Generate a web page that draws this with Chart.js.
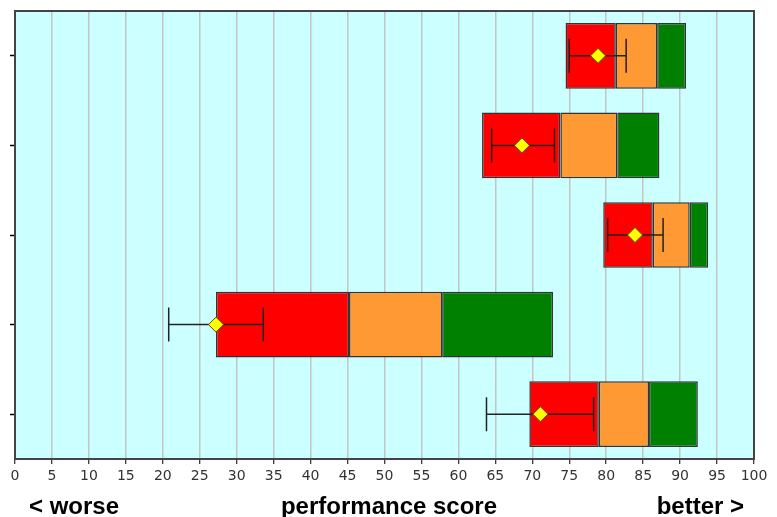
<!DOCTYPE html>
<html>
<head>
<meta charset="utf-8">
<script src="https://cdn.jsdelivr.net/npm/chart.js@4/dist/chart.umd.min.js"></script>
<style>
  html, body { margin: 0; padding: 0; background: #ffffff; }
  #wrap { width: 777px; height: 517px; position: relative; }
</style>
</head>
<body>
<div id="wrap"><canvas id="c"></canvas></div>
<script>
// ---- data (top row first) ----
const categories = ['Item 1', 'Item 2', 'Item 3', 'Item 4', 'Item 5'];
const rangeStart = [74.5, 63.2, 79.6, 27.2, 69.6];
const redEnd     = [81.3, 73.8, 86.3, 45.2, 79.0];
const orangeEnd  = [86.9, 81.5, 91.3, 57.8, 85.8];
const greenEnd   = [90.8, 87.2, 93.8, 72.8, 92.4];
const meanScore  = [78.9, 68.6, 83.9, 27.2, 71.1];
const errLow     = [75.0, 64.5, 80.2, 20.8, 63.8];
const errHigh    = [82.7, 73.0, 87.7, 33.6, 78.3];
const xTickStep = 5;
const footLeft = '< worse';
const footCenter = 'performance score';
const footRight = 'better >';

const redData = categories.map((c, i) => [rangeStart[i], redEnd[i]]);
const orangeData = categories.map((c, i) => [redEnd[i], orangeEnd[i]]);
const greenData = categories.map((c, i) => [orangeEnd[i], greenEnd[i]]);
const meanData = categories.map((c, i) => ({ x: meanScore[i], y: c }));

const barCommon = {
  type: 'bar',
  borderColor: '#333333',
  borderWidth: 1.5,
  borderSkipped: false,
  grouped: false,
  categoryPercentage: 1,
  barPercentage: 0.733
};

const framePlugin = {
  id: 'frame',
  beforeDraw(chart) {
    const { ctx, chartArea: a } = chart;
    ctx.save();
    ctx.fillStyle = '#CCFFFF';
    ctx.fillRect(a.left, a.top, a.right - a.left, a.bottom - a.top);
    ctx.restore();
  },
  beforeDatasetDraw(chart, args) {
    if (args.index !== 0) return;
    const { ctx } = chart;
    const xs = chart.scales.x, ys = chart.scales.y;
    ctx.save();
    ctx.strokeStyle = '#222222';
    ctx.lineWidth = 1.5;
    categories.forEach((c, i) => {
      const y = ys.getPixelForValue(i);
      const x1 = xs.getPixelForValue(errLow[i]);
      const x2 = xs.getPixelForValue(errHigh[i]);
      ctx.beginPath();
      ctx.moveTo(x1, y); ctx.lineTo(x2, y);
      ctx.moveTo(x1, y - 17); ctx.lineTo(x1, y + 17);
      ctx.moveTo(x2, y - 17); ctx.lineTo(x2, y + 17);
      ctx.stroke();
    });
    ctx.restore();
  },
  afterDraw(chart) {
    const { ctx, chartArea: a } = chart;
    ctx.save();
    ctx.strokeStyle = '#444444';
    ctx.lineWidth = 2;
    ctx.strokeRect(a.left, a.top, a.right - a.left, a.bottom - a.top);
    ctx.fillStyle = '#000000';
    ctx.font = 'bold 24px "Liberation Sans", Arial, sans-serif';
    ctx.textBaseline = 'alphabetic';
    ctx.textAlign = 'left';
    ctx.fillText(footLeft, 29, 514);
    ctx.textAlign = 'center';
    ctx.fillText(footCenter, 389, 514);
    ctx.textAlign = 'right';
    ctx.fillText(footRight, 744, 514);
    ctx.restore();
  }
};

new Chart(document.getElementById('c'), {
  data: {
    labels: categories,
    datasets: [
      {
        type: 'line',
        data: meanData,
        showLine: false,
        pointStyle: 'rectRot',
        pointRadius: 7.5,
        pointBackgroundColor: '#FFFF00',
        pointBorderColor: '#555500',
        pointBorderWidth: 1,
        order: 0
      },
      Object.assign({}, barCommon, { data: redData, backgroundColor: '#FF0000', order: 1 }),
      Object.assign({}, barCommon, { data: orangeData, backgroundColor: '#FF9933', order: 2 }),
      Object.assign({}, barCommon, { data: greenData, backgroundColor: '#008000', order: 3 })
    ]
  },
  options: {
    indexAxis: 'y',
    responsive: true,
    maintainAspectRatio: false,
    animation: false,
    layout: { padding: { top: 11, right: 23, left: 0, bottom: 0 } },
    plugins: { legend: { display: false }, tooltip: { enabled: false } },
    scales: {
      x: {
        type: 'linear',
        min: 0,
        max: 100,
        ticks: {
          stepSize: xTickStep,
          color: '#333333',
          font: { family: '"DejaVu Sans", Verdana, sans-serif', size: 14 },
          padding: 4,
          maxRotation: 0,
          autoSkip: false
        },
        grid: {
          color: '#C4C4C4',
          lineWidth: 1.5,
          tickColor: '#000000',
          tickLength: 5,
          tickWidth: 1
        },
        border: { display: false },
        afterFit(scale) { scale.height = 58; }
      },
      y: {
        type: 'category',
        ticks: { display: false },
        grid: {
          drawOnChartArea: false,
          offset: false,
          tickColor: '#000000',
          tickLength: 5,
          tickWidth: 1.5
        },
        border: { display: false },
        afterFit(scale) { scale.width = 15; }
      }
    }
  },
  plugins: [framePlugin]
});
</script>
</body>
</html>
